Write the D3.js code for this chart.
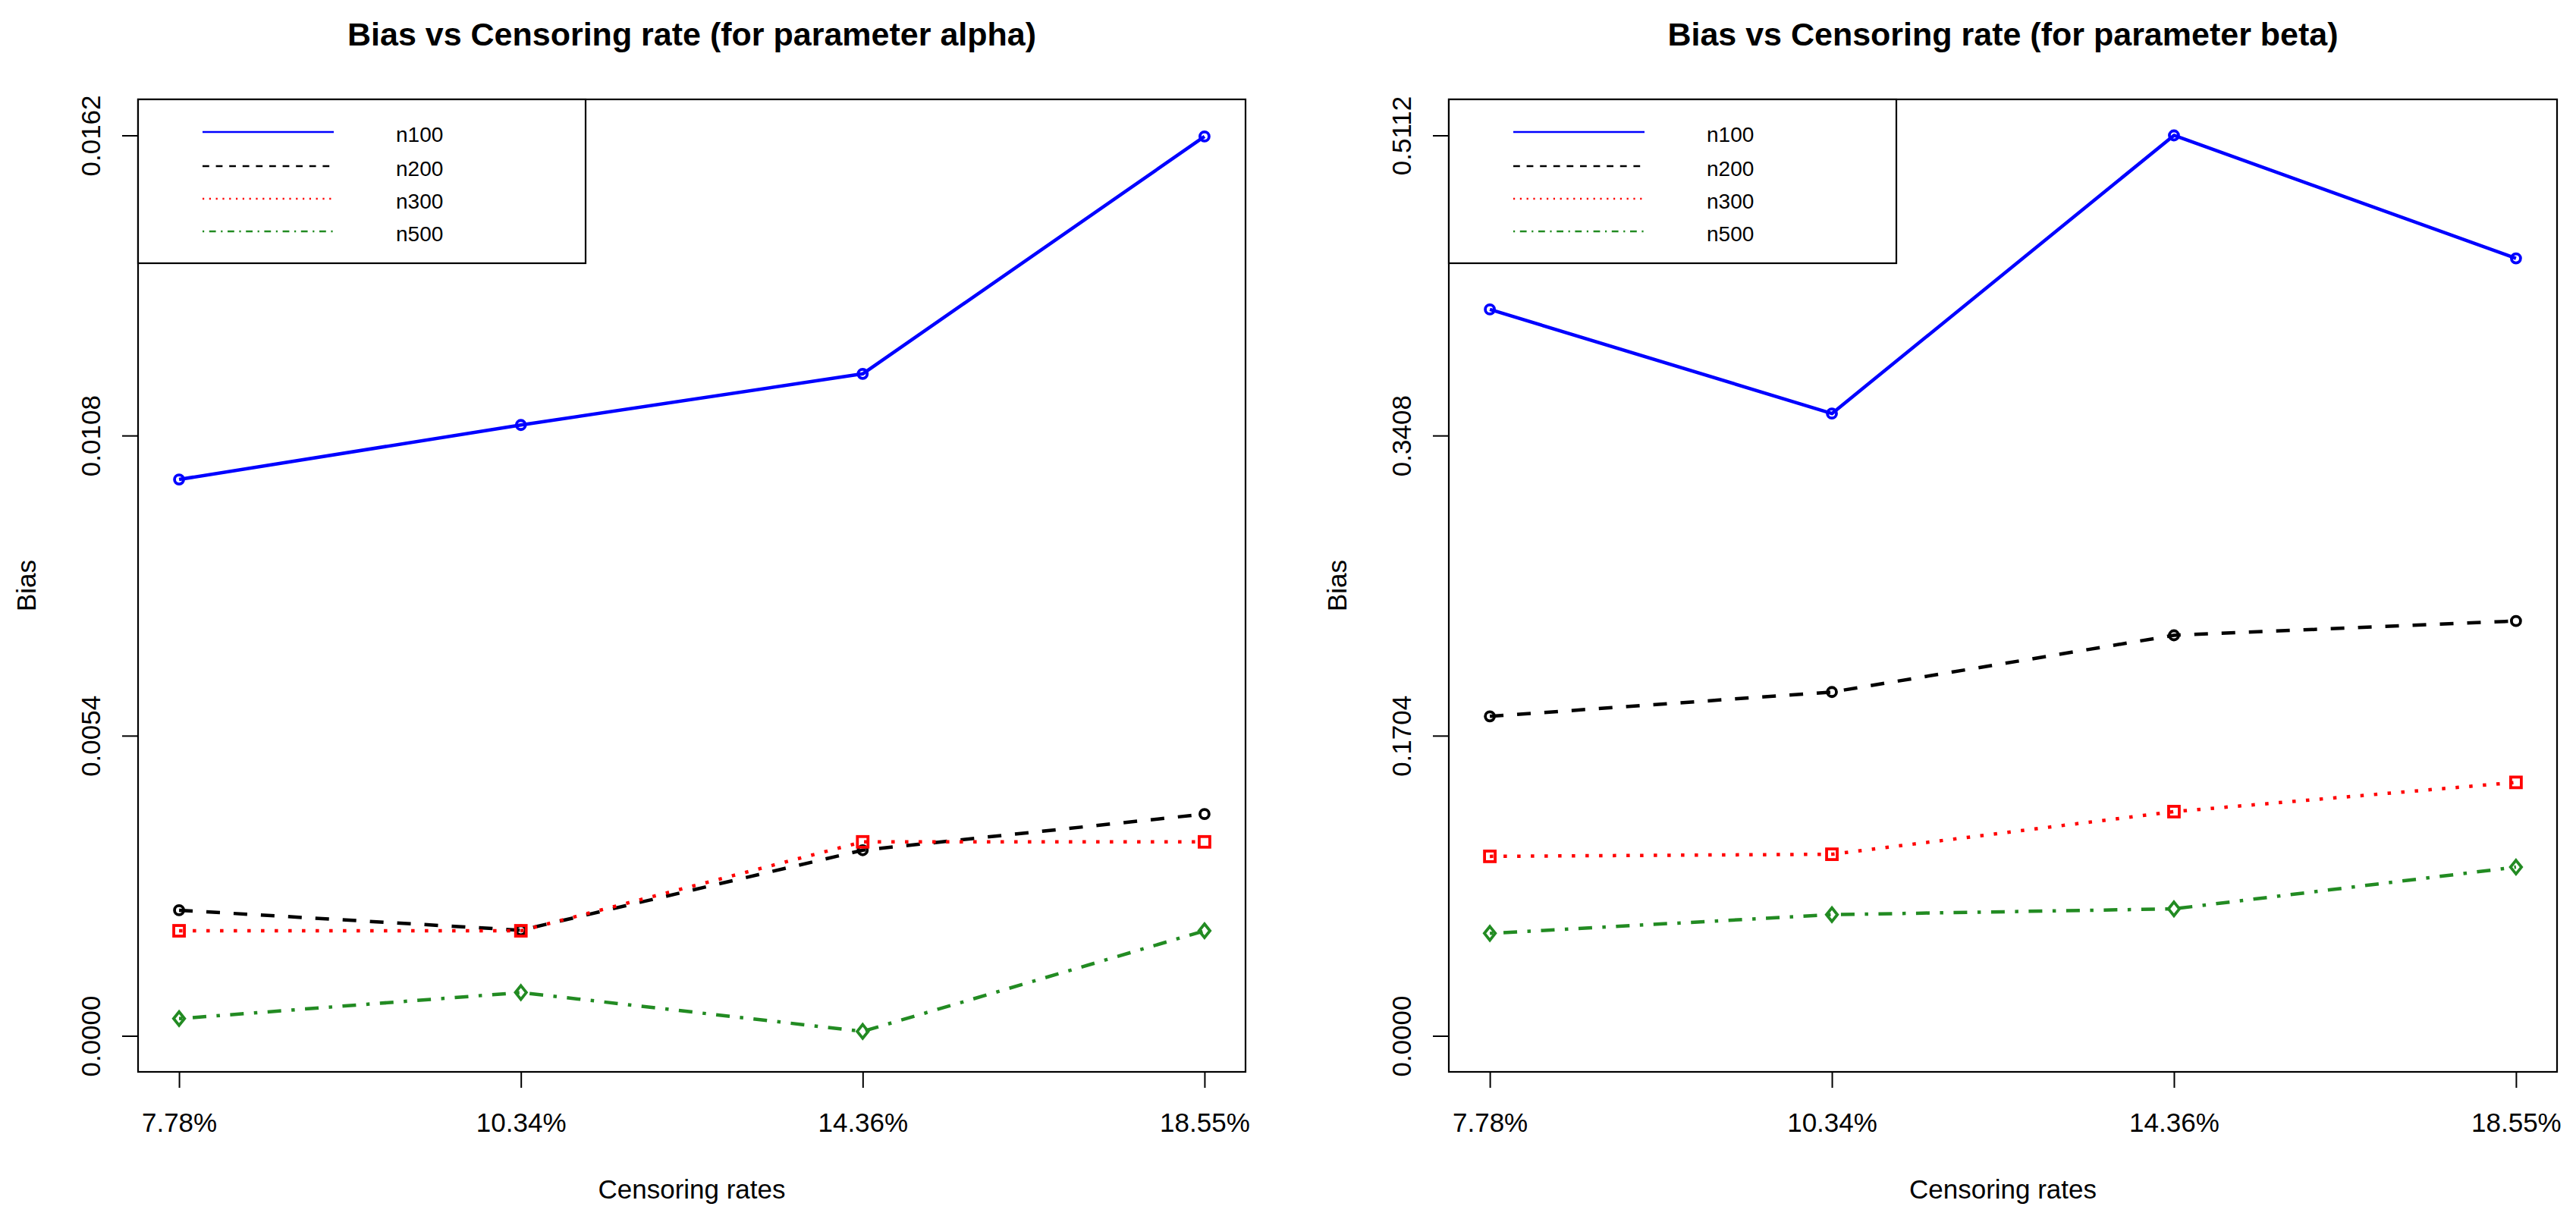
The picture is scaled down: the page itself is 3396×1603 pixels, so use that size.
<!DOCTYPE html>
<html>
<head>
<meta charset="utf-8">
<script src="https://cdn.jsdelivr.net/npm/d3@7/dist/d3.min.js"></script>
<style>
  html, body { margin: 0; padding: 0; background: #fff; }
  svg { display: block; }
  text { font-family: "Liberation Sans", Arial, Helvetica, sans-serif; fill: #000; }
</style>
</head>
<body>
<svg id="chart" width="3396" height="1603"></svg>
<script>
// ---------------- DATA ----------------
const categories = ["7.78%", "10.34%", "14.36%", "18.55%"];
const seriesNames = ["n100", "n200", "n300", "n500"];

const alphaN100 = [0.01001, 0.01099, 0.01191, 0.01618];
const alphaN200 = [0.00226, 0.00190, 0.00334, 0.00399];
const alphaN300 = [0.00189, 0.00189, 0.00349, 0.00349];
const alphaN500 = [0.00031, 0.00078, 0.00008, 0.00189];

const betaN100 = [0.4124, 0.3533, 0.5112, 0.4414];
const betaN200 = [0.1814, 0.1952, 0.2274, 0.2355];
const betaN300 = [0.1019, 0.1031, 0.1273, 0.1439];
const betaN500 = [0.0582, 0.0688, 0.0721, 0.0958];

const alphaTicks = [0.0000, 0.0054, 0.0108, 0.0162];
const betaTicks = [0.0000, 0.1704, 0.3408, 0.5112];

const titles = ["Bias vs Censoring rate (for parameter alpha)", "Bias vs Censoring rate (for parameter beta)"];
const xLabel = "Censoring rates";
const yLabel = "Bias";

// ---------------- STYLES ----------------
const styles = [
  { color: "#0000FF", dash: null,               legendDash: null,               marker: "circle" },
  { color: "#000000", dash: "18,18",            legendDash: "8.8,8.8",          marker: "circle" },
  { color: "#FF0000", dash: "4.5,13.5",         legendDash: "2.2,6.6",          marker: "square" },
  { color: "#228B22", dash: "4.5,13.5,18,13.5", legendDash: "2.2,6.6,8.8,6.6",  marker: "diamond" }
];

const panels = [
  { left: 182,  right: 1642, title: titles[0], ticks: alphaTicks, series: [alphaN100, alphaN200, alphaN300, alphaN500] },
  { left: 1910, right: 3371, title: titles[1], ticks: betaTicks,  series: [betaN100, betaN200, betaN300, betaN500] }
];
const plotTop = 131, plotBottom = 1413;

const svg = d3.select("#chart");

panels.forEach(p => {
  const g = svg.append("g");
  const ymax = p.ticks[p.ticks.length - 1];
  const x = d3.scaleLinear().domain([1 - 0.12, 4 + 0.12]).range([p.left, p.right]);
  const y = d3.scaleLinear().domain([-0.04 * ymax, 1.04 * ymax]).range([plotBottom, plotTop]);
  const cx = (p.left + p.right) / 2;

  // Title
  g.append("text").attr("x", cx).attr("y", 60)
    .attr("text-anchor", "middle").attr("font-size", 43).attr("font-weight", "bold")
    .text(p.title);

  // Y axis
  const yAxis = d3.axisLeft(y).tickValues(p.ticks).tickSize(21).tickFormat(d => d.toFixed(4));
  const ya = g.append("g").attr("transform", `translate(${p.left},0)`).call(yAxis);
  ya.select(".domain").remove();
  ya.selectAll(".tick line").attr("stroke", "#000").attr("stroke-width", 2);
  ya.selectAll(".tick text")
    .attr("font-size", 35)
    .attr("font-family", '"Liberation Sans", Arial, sans-serif')
    .attr("fill", "#000")
    .attr("x", null).attr("dy", null)
    .attr("text-anchor", "middle")
    .attr("transform", "translate(-50,0) rotate(-90)");

  // X axis
  const xAxis = d3.axisBottom(x).tickValues([1, 2, 3, 4]).tickSize(21).tickFormat((d, i) => categories[i]);
  const xa = g.append("g").attr("transform", `translate(0,${plotBottom})`).call(xAxis);
  xa.select(".domain").remove();
  xa.selectAll(".tick line").attr("stroke", "#000").attr("stroke-width", 2);
  xa.selectAll(".tick text")
    .attr("font-size", 35)
    .attr("font-family", '"Liberation Sans", Arial, sans-serif')
    .attr("fill", "#000")
    .attr("dy", null)
    .attr("y", 1492 - plotBottom);

  // Axis labels
  g.append("text").attr("x", cx).attr("y", 1580)
    .attr("text-anchor", "middle").attr("font-size", 35).text(xLabel);
  g.append("text")
    .attr("transform", `translate(${p.left - 135},${(plotTop + plotBottom) / 2}) rotate(-90)`)
    .attr("text-anchor", "middle").attr("font-size", 35).text(yLabel);

  // Series lines
  const line = d3.line().x((d, i) => x(i + 1)).y(d => y(d));
  p.series.forEach((vals, si) => {
    const st = styles[si];
    g.append("path").datum(vals)
      .attr("d", line)
      .attr("fill", "none")
      .attr("stroke", st.color)
      .attr("stroke-width", 4.5)
      .attr("stroke-dasharray", st.dash)
      .attr("stroke-linejoin", "round");
  });

  // Markers
  p.series.forEach((vals, si) => {
    const st = styles[si];
    vals.forEach((v, i) => {
      const px = x(i + 1), py = y(v);
      let m;
      if (st.marker === "circle") {
        m = g.append("circle").attr("cx", px).attr("cy", py).attr("r", 6);
      } else if (st.marker === "square") {
        m = g.append("rect").attr("x", px - 7).attr("y", py - 7).attr("width", 14).attr("height", 14);
      } else {
        const s = 9;
        m = g.append("path").attr("d", `M${px},${py - s}L${px + s * 0.8},${py}L${px},${py + s}L${px - s * 0.8},${py}Z`);
      }
      m.attr("fill", "none").attr("stroke", st.color).attr("stroke-width", 3.8);
    });
  });

  // Plot box
  g.append("rect").attr("x", p.left).attr("y", plotTop)
    .attr("width", p.right - p.left).attr("height", plotBottom - plotTop)
    .attr("fill", "none").attr("stroke", "#000").attr("stroke-width", 2.2);

  // Legend
  const lg = g.append("g");
  lg.append("rect").attr("x", p.left).attr("y", plotTop).attr("width", 590).attr("height", 347 - plotTop)
    .attr("fill", "#fff").attr("stroke", "#000").attr("stroke-width", 2.2);
  const legendY = [174, 219, 262, 305];
  seriesNames.forEach((nm, si) => {
    const st = styles[si];
    lg.append("line")
      .attr("x1", p.left + 85).attr("x2", p.left + 258)
      .attr("y1", legendY[si]).attr("y2", legendY[si])
      .attr("stroke", st.color).attr("stroke-width", 2.3)
      .attr("stroke-dasharray", st.legendDash);
    lg.append("text").attr("x", p.left + 340).attr("y", legendY[si] + 13)
      .attr("font-size", 28).text(nm);
  });
});
</script>
</body>
</html>
